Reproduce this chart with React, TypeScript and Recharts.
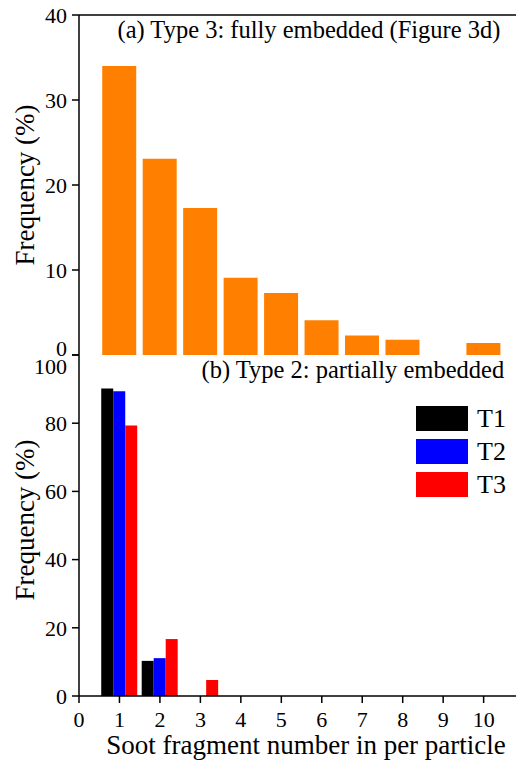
import { BarChart, Bar, XAxis, YAxis, ReferenceLine, Legend, Label } from 'recharts';

// soot fragment number per particle
const FRAGMENTS = [1, 2, 3, 4, 5, 6, 7, 8, 9, 10];
// (a) type 3, fully embedded
const FULLY_EMBEDDED = [34.0, 23.1, 17.3, 9.1, 7.3, 4.1, 2.3, 1.8, 0, 1.4];
// (b) type 2, partially embedded
const T1 = [90.2, 10.3, 0, 0, 0, 0, 0, 0, 0, 0];
const T2 = [89.4, 11.1, 0, 0, 0, 0, 0, 0, 0, 0];
const T3 = [79.3, 16.7, 4.7, 0, 0, 0, 0, 0, 0, 0];

const X_TICKS = [0, 1, 2, 3, 4, 5, 6, 7, 8, 9, 10];
const TOP_Y_TICKS = [0, 10, 20, 30, 40];
const BOTTOM_Y_TICKS = [0, 20, 40, 60, 80, 100];

const FONT = "'Liberation Serif', 'Times New Roman', serif";
const AXIS_STROKE = { stroke: '#000', strokeWidth: 1.5 };
const LABEL_STYLE = { fill: '#000', fontSize: 27, fontFamily: FONT };

const topData = FRAGMENTS.map((n, i) => ({ n, value: FULLY_EMBEDDED[i] }));
const bottomData = FRAGMENTS.map((n, i) => ({ n, T1: T1[i], T2: T2[i], T3: T3[i] }));

const SERIES = [
  { key: 'T1', color: '#000000' },
  { key: 'T2', color: '#0000FF' },
  { key: 'T3', color: '#FF0000' },
];

// tick text; the shared "0"/"100" at the panel joint are nudged apart like in the figure
function tickRenderer(dyEm: string, nudge: Record<number, number> = {}) {
  return (props: any) => {
    const { x, y, payload, textAnchor } = props;
    return (
      <text
        x={x}
        y={y + (nudge[payload.value] ?? 0)}
        dy={dyEm}
        textAnchor={textAnchor}
        fill="#000"
        fontSize={22}
        fontFamily={FONT}
      >
        {payload.value}
      </text>
    );
  };
}

function SwatchLegend() {
  return (
    <div style={{ fontFamily: FONT }}>
      {SERIES.map(s => (
        <div key={s.key} style={{ display: 'flex', alignItems: 'center', height: 25, marginBottom: 8 }}>
          <div style={{ width: 52, height: 25, background: s.color }} />
          <span style={{ marginLeft: 9, fontSize: 26, color: '#000', lineHeight: '25px' }}>{s.key}</span>
        </div>
      ))}
    </div>
  );
}

export default function App() {
  return (
    <div style={{ position: 'absolute', left: 0, top: 0, width: 516, height: 762, background: '#fff', fontFamily: FONT }}>
      <div style={{ position: 'absolute', left: 0, top: 0 }}>
        <BarChart width={516} height={380} data={topData} margin={{ top: 15, right: 0, bottom: 25, left: 0 }}>
          <XAxis
            dataKey="n"
            type="number"
            domain={[0, 10.8]}
            ticks={X_TICKS}
            tick={false}
            tickLine={false}
            height={0}
            axisLine={AXIS_STROKE}
          />
          <YAxis
            width={79}
            domain={[0, 40]}
            ticks={TOP_Y_TICKS}
            interval={0}
            tickSize={7}
            tickMargin={5}
            tick={tickRenderer('0.355em', { 0: -7 })}
            axisLine={AXIS_STROKE}
            tickLine={AXIS_STROKE}
          >
            <Label value="Frequency (%)" angle={-90} position="center" dx={-15.5} style={LABEL_STYLE} />
          </YAxis>
          <ReferenceLine y={40} stroke="#000" strokeWidth={1.5} />
          <Bar dataKey="value" fill="#FF8000" barSize={34} isAnimationActive={false} />
        </BarChart>
      </div>

      <div style={{ position: 'absolute', left: 0, top: 340 }}>
        <BarChart width={516} height={422} data={bottomData} margin={{ top: 15, right: 0, bottom: 6, left: 0 }} barGap={0}>
          <XAxis
            dataKey="n"
            type="number"
            domain={[0, 10.8]}
            ticks={X_TICKS}
            interval={0}
            height={60}
            tickSize={7}
            tickMargin={8}
            tick={tickRenderer('0.71em')}
            axisLine={AXIS_STROKE}
            tickLine={AXIS_STROKE}
          >
            <Label value="Soot fragment number in per particle" position="insideBottom" offset={2} dx={8.5} style={LABEL_STYLE} />
          </XAxis>
          <YAxis
            width={79}
            domain={[0, 100]}
            ticks={BOTTOM_Y_TICKS}
            interval={0}
            tickSize={7}
            tickMargin={5}
            tick={tickRenderer('0.355em', { 100: 11 })}
            axisLine={AXIS_STROKE}
            tickLine={AXIS_STROKE}
          >
            <Label value="Frequency (%)" angle={-90} position="center" dx={-15.5} dy={-5.5} style={LABEL_STYLE} />
          </YAxis>
          <Legend
            layout="vertical"
            align="center"
            verticalAlign="middle"
            content={<SwatchLegend />}
            wrapperStyle={{ position: 'absolute', left: 416, top: 66, width: 'auto', height: 'auto' }}
          />
          {SERIES.map(s => (
            <Bar key={s.key} dataKey={s.key} name={s.key} fill={s.color} barSize={12} isAnimationActive={false} />
          ))}
        </BarChart>
      </div>

      <div style={{ position: 'absolute', left: 117.5, top: 17.5, fontSize: 24.5, lineHeight: '24px', whiteSpace: 'nowrap', color: '#000' }}>
        (a) Type 3: fully embedded (Figure 3d)
      </div>
      <div style={{ position: 'absolute', left: 201.5, top: 357.5, fontSize: 24.5, lineHeight: '24px', whiteSpace: 'nowrap', color: '#000' }}>
        (b) Type 2: partially embedded
      </div>
    </div>
  );
}
